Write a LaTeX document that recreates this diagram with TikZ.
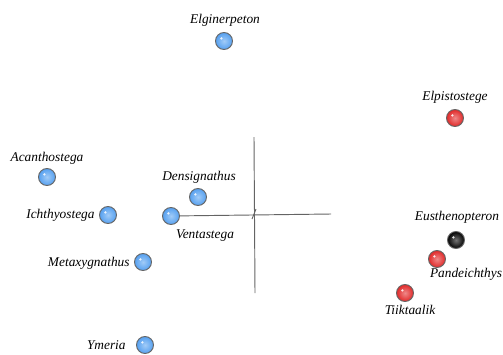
\documentclass[tikz,border=0pt]{standalone}
\usepackage{fontspec}
\setmainfont{Liberation Serif}
\definecolor{tblue}{RGB}{85,160,240}
\definecolor{tred}{RGB}{225,40,40}
\definecolor{axisgray}{RGB}{100,100,100}
\tikzset{
    taxon/.style={circle, inner sep=0pt, minimum size=14.5pt, draw=black!60, thick,
        shading=radial, inner color=#1!55!white, outer color=#1,
        path picture={\fill[white, opacity=0.85] ([shift={(-2.2pt,2.2pt)}]path picture bounding box.center) circle (1.1pt);}},
    lbl/.style={font=\fontsize{11.4}{13}\selectfont\itshape, inner sep=1pt}
}
\begin{document}
\begin{tikzpicture}[x=0.03cm, y=-0.03cm]
    \useasboundingbox (0,0) rectangle (503,354);

    % axes
    \coordinate (htip) at (331,214);
    \coordinate (vtop) at (254,137);
    \coordinate (vbot) at (255,293);
    \draw[axisgray, thick] (vtop) -- (vbot);
    \draw[axisgray, thick] (252,219) -- (256,209);

    % taxa
    \node[taxon=tblue] (elg) at (224,41) {};
    \node[taxon=tred] (elp) at (455,118) {};
    \node[taxon=tblue] (aca) at (47,177) {};
    \node[taxon=tblue] (den) at (198,197) {};
    \node[taxon=tblue] (ich) at (108,215) {};
    \node[taxon=tblue] (ven) at (171,216) {};
    \node[taxon=tblue] (met) at (143,262) {};
    \node[taxon=tblue] (yme) at (145,345) {};
    \node[taxon=black] (eus) at (456,240) {};
    \node[taxon=tred] (pan) at (437,259) {};
    \node[taxon=tred] (tii) at (405,293) {};

    \draw[axisgray, thick] (ven) -- (htip);

    % labels
    \node[lbl] (elgl) at (225,20) {Elginerpeton};
    \node[lbl] (elpl) at (455,97) {Elpistostege};
    \node[lbl] (acal) at (47,158) {Acanthostega};
    \node[lbl] (denl) at (199,177) {Densignathus};
    \node[lbl, anchor=east] (ichl) at (96,215) {Ichthyostega};
    \node[lbl] (venl) at (205,236) {Ventastega};
    \node[lbl, anchor=east] (metl) at (131,263) {Metaxygnathus};
    \node[lbl, anchor=east] (ymel) at (127,345) {Ymeria};
    \node[lbl] (eusl) at (457,217) {Eusthenopteron};
    \node[lbl] (panl) at (466,274) {Pandeichthys};
    \node[lbl] (tiil) at (410,310) {Tiiktaalik};
\end{tikzpicture}
\end{document}
